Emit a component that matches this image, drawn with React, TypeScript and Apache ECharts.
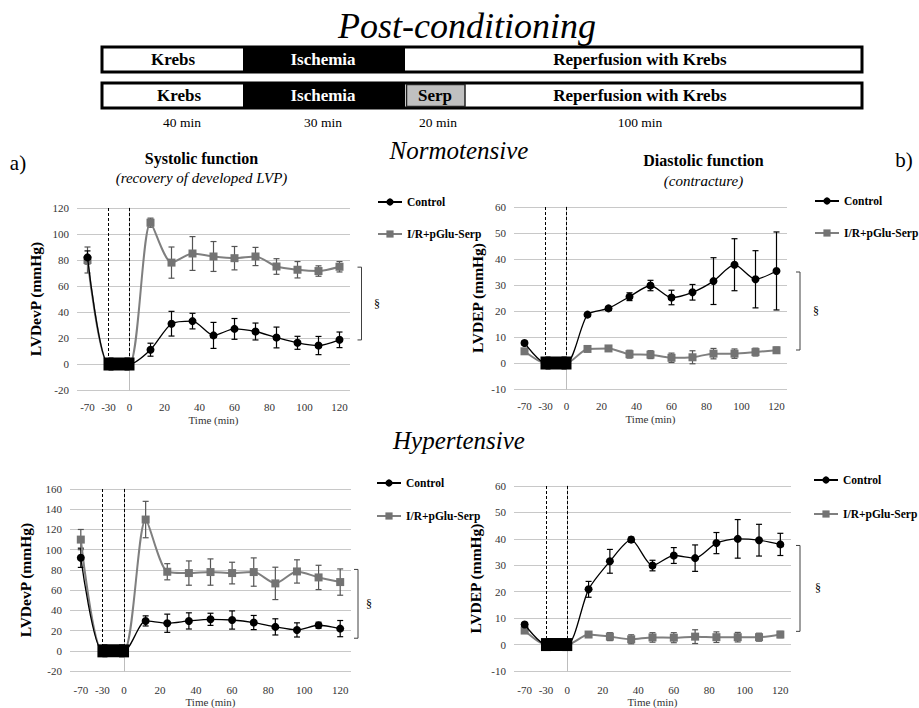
import React, { useEffect, useRef } from "react";
import * as echarts from "echarts";

// ---------- data ----------
const preTimes = [-70, -30];
const times = [-70, -30, 0, 12, 24, 36, 48, 60, 72, 84, 96, 108, 120];
const tickLabels = [-70, -30, 0, 20, 40, 60, 80, 100, 120];
const ischemia = [-30, 0];

// a) Normotensive, systolic (LVDevP)
const ctrlA = [82, 0, 0, 11, 31, 33, 22, 27, 25, 20.4, 16.3, 14.2, 18.6];
const ctrlAErr = [5, 0, 0, 5, 9.5, 6, 10, 8, 6.5, 8, 5, 7, 6];
const serpA = [80, 0, 0, 108.7, 78, 85, 82.7, 81.4, 82.7, 75, 72.5, 71.5, 74.8];
const serpAErr = [10, 0, 0, 3.5, 12, 13, 11.5, 9, 7, 6, 6.3, 4, 4];

// b) Normotensive, diastolic (LVDEP)
const ctrlB = [7.7, 0, 0, 18.6, 21, 25.5, 29.8, 25.2, 27.2, 31.5, 37.8, 32.2, 35.4];
const ctrlBErr = [0.8, 0, 0, 0.6, 0.8, 1.5, 2, 2.8, 3, 9, 10, 11, 15];
const serpB = [4.5, 0, 0, 5.4, 5.6, 3.4, 3.2, 2.0, 2.2, 3.6, 3.6, 4.2, 4.9];
const serpBErr = [0.8, 0, 0, 0.6, 1, 1.5, 1.5, 1.8, 2.5, 2, 1.8, 1.5, 1.2];

// c) Hypertensive, systolic (LVDevP)
const ctrlC = [92, 0, 0, 29.6, 27.3, 29.6, 31.2, 30.5, 28, 23.7, 20.7, 25.3, 22];
const ctrlCErr = [9.5, 0, 0, 5, 9, 8, 6, 9, 7, 8, 7, 3, 8];
const serpC = [110, 0, 0, 129.8, 78.2, 76.9, 77.9, 76.9, 77.9, 66.7, 78.5, 72.6, 68];
const serpCErr = [10, 0, 0, 18, 8, 12, 13, 10.7, 14, 16, 11.5, 12, 13];

// d) Hypertensive, diastolic (LVDEP)
const ctrlD = [7.6, 0, 0, 20.9, 31.5, 39.7, 29.9, 33.7, 32.7, 38.4, 40, 39.5, 37.9];
const ctrlDErr = [0.8, 0, 0, 3, 4.5, 1, 2, 3, 5, 4, 7.3, 6, 4.2];
const serpD = [5.3, 0, 0, 3.8, 3, 2, 2.7, 2.6, 3, 2.8, 2.8, 2.8, 3.8];
const serpDErr = [0.5, 0, 0, 0.8, 1.5, 1.7, 1.8, 1.9, 2.6, 2, 1.8, 1.5, 1.2];

// significance brackets (value range per panel)
const bracketA = [18.5, 74.5];
const bracketB = [5, 35];
const bracketC = [12.5, 80.5];
const bracketD = [5, 37.5];

const seriesNames = ["Control", "I/R+pGlu-Serp"];

// ---------- helpers ----------
const STEP = 12; // one category step on the compressed pre-ischemia part
const axisPos = (t: number) =>
  t >= 0 ? t : -(preTimes.length - preTimes.indexOf(t)) * STEP;

const FONT = "Liberation Serif";
const GRAY = "#7f7f7f";

type Panel = {
  grid: { left: number; top: number; width: number; height: number };
  yMin: number;
  yMax: number;
  yInt: number;
  yName: string;
  yNameGap: number;
  labelMargin: number;
  nameGap: number;
  ctrl: number[];
  ctrlErr: number[];
  serp: number[];
  serpErr: number[];
  legend: { left: number; top: number; gap: number };
  bracket: number[];
  bracketX: number;
  sectX: number;
};

const panels: Panel[] = [
  {
    grid: { left: 77, top: 208, width: 273, height: 182 },
    yMin: -20, yMax: 120, yInt: 20, yName: "LVDevP (mmHg)", yNameGap: 34,
    labelMargin: 11, nameGap: 24,
    ctrl: ctrlA, ctrlErr: ctrlAErr, serp: serpA, serpErr: serpAErr,
    legend: { left: 372, top: 191, gap: 20 },
    bracket: bracketA, bracketX: 361.5, sectX: 377,
  },
  {
    grid: { left: 514, top: 207, width: 273, height: 182 },
    yMin: -10, yMax: 60, yInt: 10, yName: "LVDEP (mmHg)", yNameGap: 29,
    labelMargin: 11, nameGap: 24,
    ctrl: ctrlB, ctrlErr: ctrlBErr, serp: serpB, serpErr: serpBErr,
    legend: { left: 809, top: 190, gap: 20 },
    bracket: bracketB, bracketX: 800, sectX: 816,
  },
  {
    grid: { left: 70, top: 489, width: 281, height: 183 },
    yMin: -20, yMax: 160, yInt: 20, yName: "LVDevP (mmHg)", yNameGap: 37,
    labelMargin: 13, nameGap: 24,
    ctrl: ctrlC, ctrlErr: ctrlCErr, serp: serpC, serpErr: serpCErr,
    legend: { left: 371, top: 472, gap: 21 },
    bracket: bracketC, bracketX: 358, sectX: 369,
  },
  {
    grid: { left: 514, top: 486, width: 277, height: 188 },
    yMin: -10, yMax: 60, yInt: 10, yName: "LVDEP (mmHg)", yNameGap: 31,
    labelMargin: 13, nameGap: 25,
    ctrl: ctrlD, ctrlErr: ctrlDErr, serp: serpD, serpErr: serpDErr,
    legend: { left: 808, top: 469, gap: 22 },
    bracket: bracketD, bracketX: 800, sectX: 818,
  },
];

const errorBarSeries = (i: number, vals: number[], errs: number[], color: string) => ({
  type: "custom",
  xAxisIndex: i,
  yAxisIndex: i,
  z: 3,
  silent: true,
  encode: { x: 0, y: [1, 2] },
  data: times
    .map((t, k) => [axisPos(t), vals[k] - errs[k], vals[k] + errs[k], errs[k]])
    .filter((d) => d[3] > 0),
  renderItem: (params: any, api: any) => {
    const lo = api.coord([api.value(0), api.value(1)]);
    const hi = api.coord([api.value(0), api.value(2)]);
    const w = 3;
    const st = { stroke: color, lineWidth: 1.2 };
    return {
      type: "group",
      children: [
        { type: "line", shape: { x1: lo[0], y1: lo[1], x2: hi[0], y2: hi[1] }, style: st },
        { type: "line", shape: { x1: lo[0] - w, y1: lo[1], x2: lo[0] + w, y2: lo[1] }, style: st },
        { type: "line", shape: { x1: hi[0] - w, y1: hi[1], x2: hi[0] + w, y2: hi[1] }, style: st },
      ],
    };
  },
});

const buildOption = () => {
  const grid = panels.map((p) => ({ ...p.grid }));
  const xAxis = panels.map((p, i) => ({
    type: "value",
    gridIndex: i,
    min: axisPos(preTimes[0]) - STEP / 2,
    max: times[times.length - 1] + STEP / 2,
    axisLine: { show: false },
    axisTick: { show: false },
    splitLine: { show: false },
    axisLabel: {
      customValues: tickLabels.map(axisPos),
      formatter: (v: number) => {
        const k = tickLabels.findIndex((t) => axisPos(t) === v);
        return k >= 0 ? String(tickLabels[k]) : "";
      },
      fontFamily: FONT,
      fontSize: 11,
      color: "#333",
      margin: p.labelMargin,
    },
    name: "Time (min)",
    nameLocation: "middle",
    nameGap: p.nameGap,
    nameTextStyle: { fontFamily: FONT, fontSize: 11, color: "#333" },
  }));
  const yAxis = panels.map((p, i) => ({
    type: "value",
    gridIndex: i,
    min: p.yMin,
    max: p.yMax,
    interval: p.yInt,
    axisLine: { show: true, lineStyle: { color: "#bdbdbd", width: 1 } },
    axisTick: { show: false },
    splitLine: { show: true, lineStyle: { color: "#c8c8c8", width: 1 } },
    axisLabel: { fontFamily: FONT, fontSize: 11, color: "#333", margin: 8 },
    name: p.yName,
    nameLocation: "middle",
    nameGap: p.yNameGap,
    nameTextStyle: { fontFamily: FONT, fontSize: 15.5, fontWeight: "bold", color: "#000" },
  }));
  const legend = panels.map((p) => ({
    data: seriesNames,
    orient: "vertical",
    left: p.legend.left,
    top: p.legend.top,
    itemGap: p.legend.gap,
    itemWidth: 24,
    itemHeight: 9,
    selectedMode: false,
    textStyle: { fontFamily: FONT, fontSize: 11.5, fontWeight: "bold", color: "#000" },
  }));
  const series: any[] = [];
  panels.forEach((p, i) => {
    series.push(errorBarSeries(i, p.serp, p.serpErr, "#555"));
    series.push(errorBarSeries(i, p.ctrl, p.ctrlErr, "#000"));
    series.push({
      type: "line",
      name: seriesNames[1],
      xAxisIndex: i,
      yAxisIndex: i,
      z: 4,
      smooth: 0.25,
      symbol: "rect",
      symbolSize: 8,
      data: times.map((t, k) => [axisPos(t), p.serp[k]]),
      itemStyle: { color: "#737373" },
      lineStyle: { color: GRAY, width: 2 },
    });
    series.push({
      type: "line",
      name: seriesNames[0],
      xAxisIndex: i,
      yAxisIndex: i,
      z: 5,
      smooth: 0.25,
      symbol: "circle",
      symbolSize: 8,
      data: times.map((t, k) => [axisPos(t), p.ctrl[k]]),
      itemStyle: { color: "#000" },
      lineStyle: { color: "#000", width: 1.3 },
    });
    series.push({
      type: "line",
      name: "Ischemia",
      xAxisIndex: i,
      yAxisIndex: i,
      z: 6,
      silent: true,
      symbol: "rect",
      symbolSize: [10, 13],
      data: ischemia.map((t) => [axisPos(t), 0]),
      itemStyle: { color: "#000" },
      lineStyle: { color: "#000", width: 13 },
      markLine: {
        silent: true,
        symbol: "none",
        label: { show: false },
        lineStyle: { color: "#000", width: 1, type: [3, 2] },
        data: ischemia.map((t) => [
          { coord: [axisPos(t), p.yMax] },
          { coord: [axisPos(t), 0] },
        ]),
      },
    });
  });
  return { animation: false, grid, xAxis, yAxis, legend, series };
};

const txt = (
  text: string,
  x: number,
  y: number,
  size: number,
  opts: { weight?: string; style?: string; fill?: string; align?: string } = {}
) => ({
  type: "text",
  x,
  y,
  z: 20,
  style: {
    text,
    fontFamily: FONT,
    fontSize: size,
    fontWeight: opts.weight || "normal",
    fontStyle: opts.style || "normal",
    fill: opts.fill || "#000",
    align: opts.align || "center",
    verticalAlign: "middle",
  },
});

const staticGraphics = () => {
  const g: any[] = [];
  g.push(txt("Post-conditioning", 467, 26, 36, { style: "italic" }));
  // protocol bar 1
  g.push({ type: "rect", z: 10, shape: { x: 102, y: 47, width: 760, height: 25 }, style: { fill: "#fff", stroke: "#000", lineWidth: 3 } });
  g.push({ type: "rect", z: 11, shape: { x: 243, y: 47, width: 162, height: 25 }, style: { fill: "#000" } });
  // protocol bar 2
  g.push({ type: "rect", z: 10, shape: { x: 102, y: 83, width: 760, height: 25 }, style: { fill: "#fff", stroke: "#000", lineWidth: 3 } });
  g.push({ type: "rect", z: 11, shape: { x: 243, y: 83, width: 162, height: 25 }, style: { fill: "#000" } });
  g.push({ type: "rect", z: 11, shape: { x: 406.5, y: 84.5, width: 58.5, height: 22 }, style: { fill: "#c0c0c0", stroke: "#222", lineWidth: 1.5 } });
  g.push(txt("Krebs", 173, 59.5, 17, { weight: "bold" }));
  g.push(txt("Ischemia", 323, 59.5, 17, { weight: "bold", fill: "#fff" }));
  g.push(txt("Reperfusion with Krebs", 640, 59.5, 17, { weight: "bold" }));
  g.push(txt("Krebs", 179, 95, 17, { weight: "bold" }));
  g.push(txt("Ischemia", 323, 95, 17, { weight: "bold", fill: "#fff" }));
  g.push(txt("Serp", 435, 95, 17, { weight: "bold" }));
  g.push(txt("Reperfusion with Krebs", 640, 95, 17, { weight: "bold" }));
  g.push(txt("40 min", 182, 122, 13.5));
  g.push(txt("30 min", 323, 122, 13.5));
  g.push(txt("20 min", 438, 122, 13.5));
  g.push(txt("100 min", 640, 122, 13.5));
  g.push(txt("Normotensive", 459, 150, 25, { style: "italic" }));
  g.push(txt("Hypertensive", 459, 440, 25, { style: "italic" }));
  g.push(txt("a)", 18, 163, 21));
  g.push(txt("b)", 904, 160, 21));
  g.push(txt("Systolic function", 201.5, 158.5, 16, { weight: "bold" }));
  g.push(txt("(recovery of developed LVP)", 201.5, 177.5, 15, { style: "italic" }));
  g.push(txt("Diastolic function", 703.5, 160.5, 16, { weight: "bold" }));
  g.push(txt("(contracture)", 703.5, 180.5, 15, { style: "italic" }));
  return g;
};

export default function App() {
  const ref = useRef<HTMLDivElement>(null);
  useEffect(() => {
    if (!ref.current) return;
    const chart = echarts.init(ref.current, null, { renderer: "svg" });
    chart.setOption(buildOption() as any);
    const g = staticGraphics();
    panels.forEach((p, i) => {
      const y1 = (chart.convertToPixel({ gridIndex: i } as any, [0, p.bracket[0]]) as number[])[1];
      const y2 = (chart.convertToPixel({ gridIndex: i } as any, [0, p.bracket[1]]) as number[])[1];
      const bx = p.bracketX;
      g.push({
        type: "polyline",
        z: 20,
        shape: { points: [[bx - 4, y1], [bx, y1], [bx, y2], [bx - 4, y2]] },
        style: { stroke: "#404040", lineWidth: 1, fill: null },
      });
      g.push(txt("§", p.sectX, (y1 + y2) / 2, 12));
    });
    chart.setOption({ graphic: g } as any);
    return () => chart.dispose();
  }, []);
  return (
    <div
      ref={ref}
      style={{ position: "fixed", left: 0, top: 0, width: 919, height: 708, background: "#fff" }}
    />
  );
}
